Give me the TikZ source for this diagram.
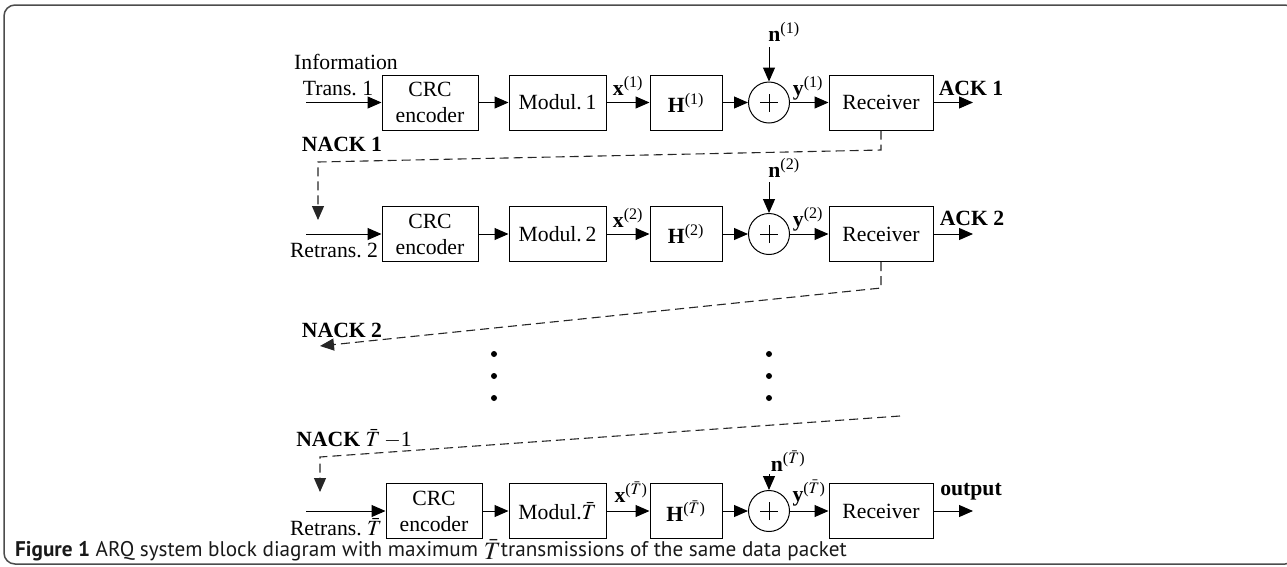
\documentclass[tikz,border=0pt]{standalone}
\usepackage{mathptmx}
\usepackage{fontspec}
\setmainfont{Liberation Serif}
\newfontfamily\capfont{PT Sans}
\usetikzlibrary{arrows.meta}
\newcommand{\dfont}{\fontsize{21.7}{26}\selectfont}
\newcommand{\Tb}{\ensuremath{\bar{T}}}
\tikzset{
  blk/.style={draw, line width=1pt, minimum height=55pt, inner sep=0pt, align=center, font=\dfont},
  sumnode/.style={draw, circle, line width=1pt, minimum size=41pt, inner sep=0pt,
    path picture={\draw[line width=1pt] ([xshift=-9pt]path picture bounding box.center) -- ([xshift=9pt]path picture bounding box.center);
                  \draw[line width=1pt] ([yshift=-9pt]path picture bounding box.center) -- ([yshift=9pt]path picture bounding box.center);}},
  lbl/.style={inner sep=0pt, font=\dfont},
  bl/.style={inner sep=0pt, font=\dfont\bfseries},
  sig/.style={-{Triangle[length=14pt,width=12pt]}, line width=1pt},
  fb/.style={-{Triangle[length=14pt,width=12pt]}, dash pattern=on 9pt off 5pt, line width=1.1pt, draw=black!85},
  dotn/.style={circle, fill=black, inner sep=0pt, minimum size=6pt},
}
\begin{document}
\begin{tikzpicture}[x=1pt,y=-1pt]
\useasboundingbox (0,0) rectangle (1287,566);
\draw[rounded corners=11pt, line width=1.5pt, draw=black!70] (4,5) rectangle (1296,564);

% ---------- row 1 ----------
\node[blk, minimum width=96pt]  (crc1) at (430,102.5) {CRC\\encoder};
\node[blk, minimum width=97pt]  (mod1) at (557.5,102.5) {Modul.\,1};
\node[blk, minimum width=72pt]  (h1)   at (686,102.5) {\textbf{H}\textsuperscript{(1)}};
\node[sumnode] (s1) at (769,102.5) {};
\node[blk, minimum width=104pt] (rx1)  at (881,102.5) {Receiver};
\coordinate (in1) at (306,102.5);
\coordinate (ack1) at (973,102.5);
\coordinate (n1) at (769,47);
\draw[sig] (in1) -- (crc1);
\draw[sig] (crc1) -- (mod1);
\draw[sig] (mod1) -- (h1);
\draw[sig] (h1) -- (s1);
\draw[sig] (s1) -- (rx1);
\draw[sig] (rx1) -- (ack1);
\draw[sig] (n1) -- (s1);
\node[lbl] (tinfo) at (346,62) {Information};
\node[lbl] (ttr1) at (338,88) {Trans.\ 1};
\node[lbl] (x1) at (628,86) {\textbf{x}\textsuperscript{(1)}};
\node[lbl] (y1) at (808,88) {\textbf{y}\textsuperscript{(1)}};
\node[lbl] (nl1) at (784,32) {\textbf{n}\textsuperscript{(1)}};
\node[bl] (a1) at (971,88) {ACK 1};
\node[bl] (nk1) at (342,144) {NACK 1};

% feedback 1
\coordinate (f1a) at (881,150);
\coordinate (f1b) at (318,162);
\coordinate (f1c) at (318,220);
\draw[fb] (rx1.south) -- (f1a) -- (f1b) -- (f1c);

% ---------- row 2 ----------
\node[blk, minimum width=96pt]  (crc2) at (430,234) {CRC\\encoder};
\node[blk, minimum width=97pt]  (mod2) at (557.5,234) {Modul.\,2};
\node[blk, minimum width=72pt]  (h2)   at (686,234) {\textbf{H}\textsuperscript{(2)}};
\node[sumnode] (s2) at (769,234) {};
\node[blk, minimum width=104pt] (rx2)  at (881,234) {Receiver};
\coordinate (in2) at (306,234);
\coordinate (ack2) at (973,234);
\coordinate (n2) at (769,182);
\draw[sig] (in2) -- (crc2);
\draw[sig] (crc2) -- (mod2);
\draw[sig] (mod2) -- (h2);
\draw[sig] (h2) -- (s2);
\draw[sig] (s2) -- (rx2);
\draw[sig] (rx2) -- (ack2);
\draw[sig] (n2) -- (s2);
\node[lbl] (ttr2) at (334,250) {Retrans.\ 2};
\node[lbl] (x2) at (628,218) {\textbf{x}\textsuperscript{(2)}};
\node[lbl] (y2) at (808,219) {\textbf{y}\textsuperscript{(2)}};
\node[lbl] (nl2) at (784,168) {\textbf{n}\textsuperscript{(2)}};
\node[bl] (a2) at (972,218) {ACK 2};

% feedback 2
\coordinate (f2a) at (881,288);
\coordinate (f2b) at (320,346);
\draw[fb] (rx2.south) -- (f2a) -- (f2b);
\node[bl] (nk2) at (342,330) {NACK 2};

% dots
\foreach \yy [count=\i] in {354,376,398} {
  \node[dotn] (dl\i) at (494,\yy) {};
  \node[dotn] (dr\i) at (769,\yy) {};
}

% feedback T-1
\coordinate (f3a) at (900,416);
\coordinate (f3b) at (320,457);
\coordinate (f3c) at (320,492);
\draw[fb] (f3a) -- (f3b) -- (f3c);
\node[bl] (nk3) at (354,439) {NACK \textmd{\Tb\,$-$1}};

% ---------- row 3 ----------
\node[blk, minimum width=96pt]  (crc3) at (434,511) {CRC\\encoder};
\node[blk, minimum width=97pt]  (mod3) at (557.5,511) {Modul.\Tb};
\node[blk, minimum width=72pt]  (h3)   at (686,511) {\textbf{H}\textsuperscript{(\Tb)}};
\node[sumnode] (s3) at (769,511) {};
\node[blk, minimum width=104pt] (rx3)  at (881,511) {Receiver};
\coordinate (in3) at (306,511);
\coordinate (out3) at (973,511);
\coordinate (n3) at (769,474);
\draw[sig] (in3) -- (crc3);
\draw[sig] (crc3) -- (mod3);
\draw[sig] (mod3) -- (h3);
\draw[sig] (h3) -- (s3);
\draw[sig] (s3) -- (rx3);
\draw[sig] (rx3) -- (out3);
\draw[sig] (n3) -- (s3);
\node[lbl] (ttr3) at (336,527) {Retrans.\ \Tb};
\node[lbl] (x3) at (631,492) {\textbf{x}\textsuperscript{(\Tb)}};
\node[lbl] (y3) at (809,493) {\textbf{y}\textsuperscript{(\Tb)}};
\node[lbl] (nl3) at (788,461) {\textbf{n}\textsuperscript{(\Tb)}};
\node[bl] (o3) at (971,492) {output};

% caption
\node[anchor=base west, inner sep=0pt, font=\capfont\fontsize{21.2}{24}\selectfont, text=black!90] (cap) at (15,556)
  {\textbf{Figure 1} ARQ system block diagram with maximum \raisebox{-3pt}{\fontsize{25}{25}\selectfont\Tb}transmissions of the same data packet};
\end{tikzpicture}
\end{document}
